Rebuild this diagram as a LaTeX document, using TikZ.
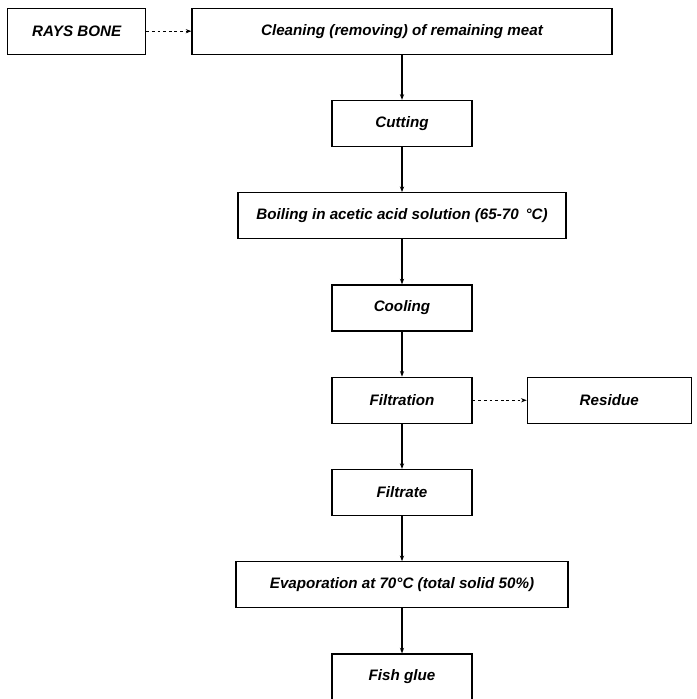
\documentclass[tikz,border=0pt]{standalone}
\usepackage{fontspec}
\setmainfont{Liberation Sans}
\usepackage{tikz}
\usetikzlibrary{positioning, arrows.meta}
\tikzset{
    stepbox/.style={
        shape=rectangle,
        draw=black,
        line width=0.9pt,
        fill=white,
        minimum width=#1,
        minimum height=1.15cm,
        inner sep=2pt,
        font=\fontsize{10.8}{13}\selectfont\bfseries\itshape
    },
    stepbox/.default=3.5cm,
    flow/.style={-{Stealth[length=4pt,width=3pt]}, line width=0.9pt},
    side/.style={-{Stealth[length=4pt,width=3pt]}, line width=0.5pt, dash pattern=on 2pt off 2pt}
}

\begin{document}
\begin{tikzpicture}[node distance=1.125cm]
\useasboundingbox (0,0) rectangle (17.4,-17.475);

% Main column
\node[stepbox=10.5cm] (s_clean) at (10.05,-0.78) {Cleaning (removing) of remaining meat};
\node[stepbox, below=of s_clean] (s_cut) {Cutting};
\node[stepbox=8.2cm, below=of s_cut] (s_boil) {Boiling in acetic acid solution (65-70 \,°C)};
\node[stepbox, below=of s_boil] (s_cool) {Cooling};
\node[stepbox, below=of s_cool] (s_filt) {Filtration};
\node[stepbox, below=of s_filt] (s_filtrate) {Filtrate};
\node[stepbox=8.3cm, below=of s_filtrate] (s_evap) {Evaporation at 70°C (total solid 50\%)};
\node[stepbox, below=of s_evap] (s_glue) {Fish glue};

% Side boxes
\node[stepbox=3.45cm, left=1.125cm of s_clean] (s_bone) {RAYS BONE};
\node[stepbox=4.1cm, right=1.35cm of s_filt] (s_res) {Residue};

% Connectors
\draw[side] (s_bone) -- (s_clean);
\draw[flow] (s_clean) -- (s_cut);
\draw[flow] (s_cut) -- (s_boil);
\draw[flow] (s_boil) -- (s_cool);
\draw[flow] (s_cool) -- (s_filt);
\draw[side] (s_filt) -- (s_res);
\draw[flow] (s_filt) -- (s_filtrate);
\draw[flow] (s_filtrate) -- (s_evap);
\draw[flow] (s_evap) -- (s_glue);

\end{tikzpicture}
\end{document}
